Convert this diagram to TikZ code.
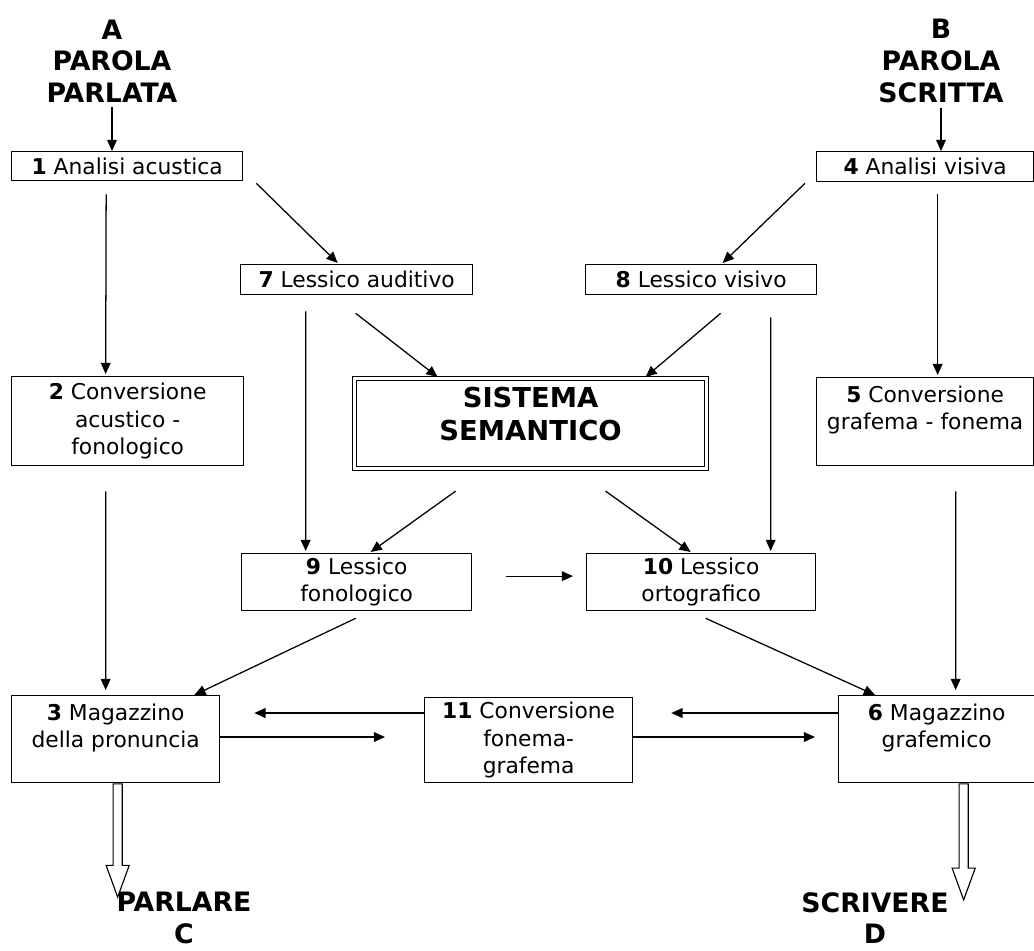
\documentclass[tikz,border=0pt]{standalone}
\usepackage{fontspec}
\setmainfont{DejaVu Sans}
\usetikzlibrary{arrows.meta, positioning, calc, shapes.arrows}

\begin{document}
\begin{tikzpicture}[x=0.025cm, y=-0.025cm,
    box/.style={draw, line width=0.9pt, anchor=north west, align=center, inner sep=2pt,
      font=\fontsize{15.5}{19.5}\selectfont},
    ttl/.style={align=center, font=\fontsize{19}{22.5}\selectfont\bfseries},
    arr/.style={line width=0.9pt, -{Triangle[length=8pt, width=7pt]}},
    hollow/.style={single arrow, draw, line width=0.8pt, rotate=-90, anchor=tail,
      minimum width=0.55cm, single arrow head extend=0.175cm,
      single arrow tip angle=40, inner xsep=0pt, inner ysep=0.1cm}
]
\useasboundingbox (0,0) rectangle (1034,950);

% inputs
\node[ttl] (tA) at (112,61) {A\\PAROLA\\PARLATA};
\node[ttl] (tB) at (941,61) {B\\PAROLA\\SCRITTA};

% first row
\node[box, minimum width=5.775cm, minimum height=0.725cm] (b1) at (11,151) {\textbf{1} Analisi acustica};
\node[box, minimum width=5.425cm, minimum height=0.75cm] (b4) at (816,151) {\textbf{4} Analisi visiva};

% lessici in ingresso
\node[box, minimum width=5.8cm, minimum height=0.75cm] (b7) at (240,264) {\textbf{7} Lessico auditivo};
\node[box, minimum width=5.775cm, minimum height=0.75cm] (b8) at (585,264) {\textbf{8} Lessico visivo};

% conversioni + sistema semantico
\node[box, minimum width=5.8cm, minimum height=2.225cm] (b2) at (11,376) {\textbf{2} Conversione\\acustico -\\fonologico};
\node[box, double, line width=0.8pt, double distance=2.2pt, minimum width=8.8cm, minimum height=2.25cm,
  font=\fontsize{19.5}{24}\selectfont\bfseries] (sem) at (354,378) {SISTEMA\\SEMANTICO\\[-10pt]\mbox{}};
\node[box, minimum width=5.425cm, minimum height=2.2cm] (b5) at (816,377) {\textbf{5} Conversione\\grafema - fonema\\\mbox{}};

% lessici in uscita
\node[box, minimum width=5.75cm, minimum height=1.425cm] (b9) at (241,553) {\textbf{9} Lessico\\fonologico};
\node[box, minimum width=5.725cm, minimum height=1.425cm] (b10) at (586,553) {\textbf{10} Lessico\\ortografico};

% magazzini
\node[box, minimum width=5.2cm, minimum height=2.175cm] (b3) at (11,695) {\textbf{3} Magazzino\\della pronuncia\\\mbox{}};
\node[box, minimum width=5.2cm, minimum height=2.125cm] (b11) at (424,697) {\textbf{11} Conversione\\fonema-\\grafema};
\node[box, minimum width=4.9cm, minimum height=2.175cm] (b6) at (838,695) {\textbf{6} Magazzino\\grafemico\\\mbox{}};

% outputs
\node[hollow, minimum height=2.83cm] (h3) at ($(b3.south)+(2,0)$) {};
\node[hollow, minimum height=2.9cm] (h6) at ($(b6.south)+(27,0)$) {};
\node[ttl] (tC) at (184,918) {PARLARE\\C};
\node[ttl] (tD) at (875,918) {SCRIVERE\\D};

% connections
\draw[arr] (tA.south) -- (tA.south |- b1.north);
\draw[arr] (tB.south) -- (tB.south |- b4.north);
\draw[arr] ($(b1.south)+(-21,13)$) -- ($(b2.north)+(-22,-2)$);
\draw[arr] ($(b4.south)+(12.5,12)$) -- ($(b5.north)+(12.5,-2)$);
\draw[arr] ($(b1.south east)+(13,2)$) -- ($(b7.north)+(-19,-1)$);
\draw[arr] ($(b4.south west)+(-11,1)$) -- ($(b8.north)+(21.5,-1)$);
\draw[arr] ($(b7.south)+(-1,18)$) -- ($(sem.north)+(-93,-1)$);
\draw[arr] ($(b8.south)+(19.5,18)$) -- ($(sem.north)+(115,-1)$);
\draw[arr] ($(b7.south)+(-51,16)$) -- ($(b9.north)+(-51,-2)$);
\draw[arr] ($(b8.south)+(69.5,22)$) -- ($(b10.north)+(69.5,-2)$);
\draw[arr] ($(sem.south)+(-75,22)$) -- ($(b9.north)+(14,-1)$);
\draw[arr] ($(sem.south)+(75,22)$) -- ($(b10.north)+(-10.5,-1)$);
\draw[arr] ($(b9.east)+(34,-6)$) -- ($(b10.west)+(-13,-6)$);
\draw[arr] ($(b2.south)+(-22,25)$) -- ($(b3.north)+(-10,-5)$);
\draw[arr] ($(b5.south)+(30.5,25)$) -- ($(b6.north)+(19,-5)$);
\draw[arr] ($(b9.south)+(-1,7)$) -- ($(b3.north east)+(-26,0)$);
\draw[arr] ($(b10.south)+(4.5,7)$) -- ($(b6.north west)+(37,0)$);
\draw[arr] ($(b11.north west)+(0,16)$) -- ($(b3.north east)+(34,18)$);
\draw[arr] ($(b3.north east)+(0,42)$) -- ($(b11.north west)+(-39,40)$);
\draw[arr] ($(b6.north west)+(0,18)$) -- ($(b11.north east)+(38,16)$);
\draw[arr] ($(b11.north east)+(0,40)$) -- ($(b6.north west)+(-23,42)$);
\end{tikzpicture}
\end{document}
